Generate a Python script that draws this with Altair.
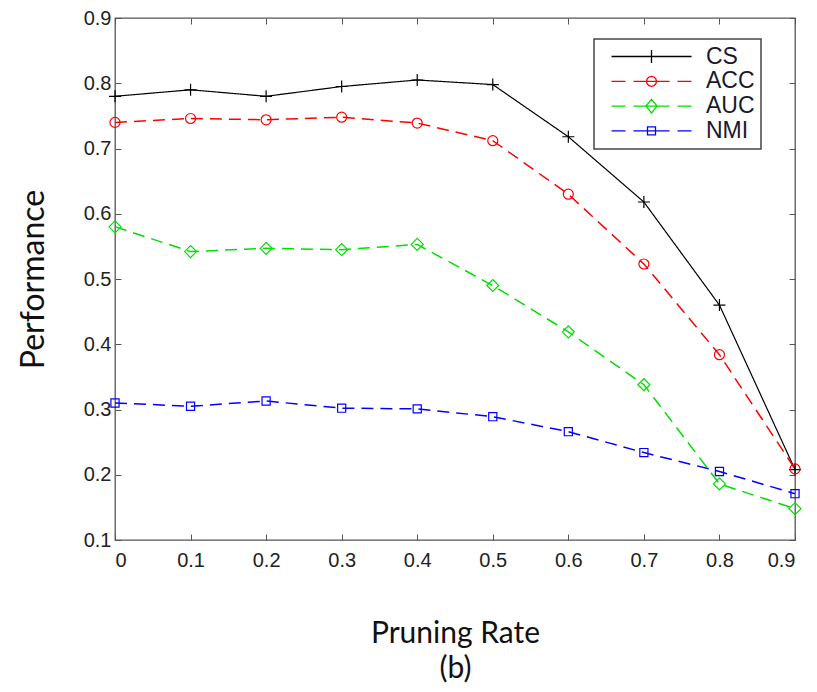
import altair as alt
import pandas as pd

# ---- data ----
rates = [0.0, 0.1, 0.2, 0.3, 0.4, 0.5, 0.6, 0.7, 0.8, 0.9]
cs = [0.780, 0.790, 0.780, 0.795, 0.805, 0.798, 0.718, 0.618, 0.460, 0.208]
acc = [0.740, 0.746, 0.744, 0.748, 0.739, 0.712, 0.630, 0.523, 0.384, 0.209]
auc = [0.580, 0.542, 0.547, 0.545, 0.553, 0.490, 0.419, 0.338, 0.186, 0.148]
nmi = [0.310, 0.305, 0.313, 0.302, 0.301, 0.289, 0.266, 0.234, 0.205, 0.171]
series_names = ["CS", "ACC", "AUC", "NMI"]
x_ticks = [0.0, 0.1, 0.2, 0.3, 0.4, 0.5, 0.6, 0.7, 0.8, 0.9]
y_ticks = [0.1, 0.2, 0.3, 0.4, 0.5, 0.6, 0.7, 0.8, 0.9]
x_title = ["Pruning Rate", "(b)"]
y_title = "Performance"

rows = []
for name, vals in zip(series_names, [cs, acc, auc, nmi]):
    for r, v in zip(rates, vals):
        rows.append({"rate": r, "value": v, "series": name})
df = pd.DataFrame(rows)

# ---- styles ----
line_colors = ["#000000", "#ff0000", "#00e000", "#0000ff"]
dashes = [[1, 0], [12, 7], [12, 7], [12, 7]]
line_widths = [1.2, 1.5, 1.5, 1.5]
marker_shapes = ["M-1,0H1M0,-1V1", "circle", "diamond", "square"]
marker_sizes = [144, 100, 144, 66]

seg = "M-1,0H-0.65M-0.45,0H0.45M0.65,0H1"
circ = "M0.125,0L0.108,0.0625L0.0625,0.108L0,0.125L-0.0625,0.108L-0.108,0.0625L-0.125,0L-0.108,-0.0625L-0.0625,-0.108L0,-0.125L0.0625,-0.108L0.108,-0.0625Z"
legend_paths = [
    "M-1,0H1M0,-0.16V0.16",
    seg + circ,
    seg + "M0,-0.17L0.14,0L0,0.17L-0.14,0Z",
    seg + "M-0.1,-0.1H0.1V0.1H-0.1Z",
]

xscale = alt.Scale(domain=[0, 0.9], nice=False, zero=False)
yscale = alt.Scale(domain=[0.1, 0.9], nice=False, zero=False)
tick_color = "#555555"

x_main = alt.X(
    "rate:Q", scale=xscale,
    axis=alt.Axis(
        orient="bottom", values=x_ticks, format="~g", offset=-6, tickSize=6,
        domain=False, grid=False, tickColor=tick_color, labelPadding=10,
        labelFont="Liberation Sans", labelFontSize=20, labelColor="#222222",
        title=x_title, titleFont="Lato", titleFontSize=30, titleFontWeight="normal",
        titleColor="#111111", titleLineHeight=35, titlePadding=48,
    ),
)
y_main = alt.Y(
    "value:Q", scale=yscale,
    axis=alt.Axis(
        orient="left", values=y_ticks, format="~g", offset=-6, tickSize=6,
        domain=False, grid=False, tickColor=tick_color, labelPadding=4,
        labelFont="Liberation Sans", labelFontSize=20, labelColor="#222222",
        title=y_title, titleFont="Lato", titleFontSize=32, titleFontWeight="normal",
        titleColor="#111111", titleAngle=-90, titleX=-88, titleY=261,
        titleAlign="center", titleBaseline="middle",
    ),
)
x_none = alt.X("rate:Q", scale=xscale, axis=None)
y_none = alt.Y("value:Q", scale=yscale, axis=None)

layers = []
for i, name in enumerate(series_names):
    sub = alt.Chart(df).transform_filter(alt.datum.series == name)
    layers.append(
        sub.mark_line(color=line_colors[i], strokeDash=dashes[i], strokeWidth=line_widths[i])
        .encode(x=x_main if i == 0 else x_none, y=y_main if i == 0 else y_none)
    )
for i, name in enumerate(series_names):
    sub = alt.Chart(df).transform_filter(alt.datum.series == name)
    layers.append(
        sub.mark_point(shape=marker_shapes[i], size=marker_sizes[i], color=line_colors[i],
                       filled=False, strokeWidth=1.2, opacity=1)
        .encode(x=x_none, y=y_none)
    )

legend_kw = dict(
    title=None, orient="none", legendX=479, legendY=21, direction="vertical",
    symbolSize=6400, symbolStrokeWidth=1.3, symbolOpacity=1, symbolOffset=10.5,
    clipHeight=23, rowPadding=0.8, padding=6, labelOffset=13.5,
    labelFont="Liberation Sans", labelFontSize=23, labelColor="#1a1a2e",
    labelExpr="datum.label + '      '", strokeColor="#444444", fillColor="white",
)
legend_layer = alt.Chart(df).mark_point(size=6400, filled=False, opacity=0).encode(
    x=x_none,
    y=y_none,
    color=alt.Color("series:N", scale=alt.Scale(domain=series_names, range=line_colors),
                    legend=alt.Legend(**legend_kw)),
    shape=alt.Shape("series:N", scale=alt.Scale(domain=series_names, range=legend_paths),
                    legend=alt.Legend(**legend_kw)),
)
layers.append(legend_layer)

axes_layer = alt.Chart(df).mark_point(opacity=0).encode(
    x=alt.X("rate:Q", scale=xscale, axis=alt.Axis(
        orient="top", values=x_ticks, offset=-6, tickSize=6, labels=False,
        domain=False, grid=False, title=None, tickColor=tick_color)),
    y=alt.Y("value:Q", scale=yscale, axis=alt.Axis(
        orient="right", values=y_ticks, offset=-6, tickSize=6, labels=False,
        domain=False, grid=False, title=None, tickColor=tick_color)),
)
layers.append(axes_layer)

chart = (
    alt.layer(*layers)
    .resolve_axis(x="independent", y="independent")
    .properties(
        width=680, height=522,
        autosize=alt.AutoSizeParams(type="none"),
        padding={"left": 107, "top": 10, "right": 14, "bottom": 144},
        background="white",
    )
    .configure_view(stroke="#555555", strokeWidth=1.3)
    .configure_legend(strokeWidth=1.5)
)

chart.save("out.html", embed_options={"renderer": "svg", "actions": False})
